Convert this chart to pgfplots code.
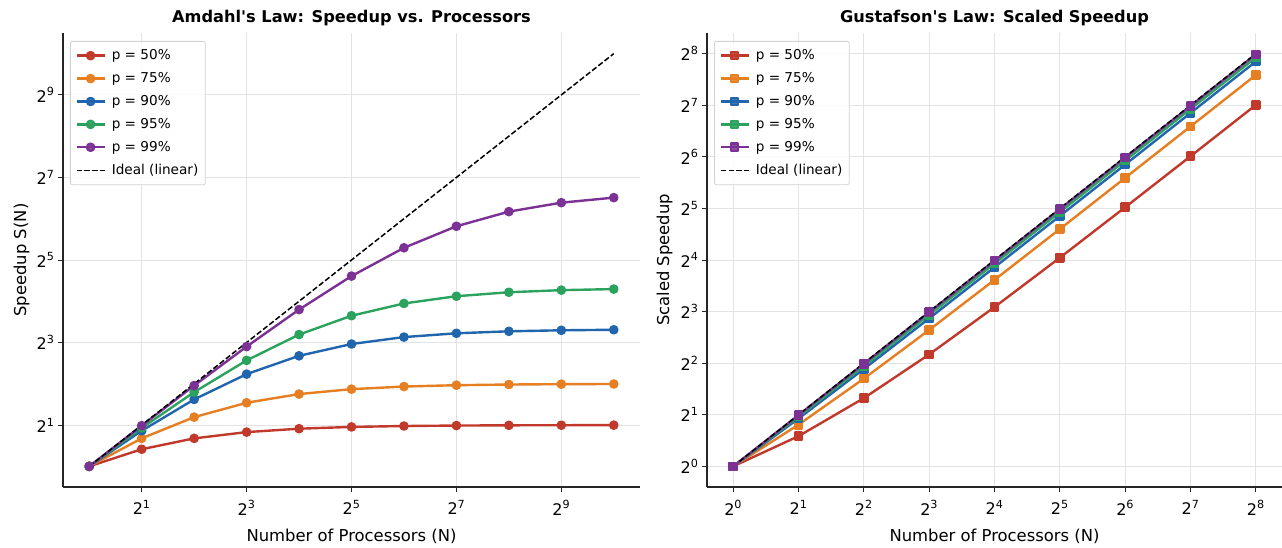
\documentclass[border=0pt]{standalone}
\usepackage{fontspec}
\setmainfont{DejaVu Sans}
\usepackage{pgfplots}
\usepackage{pgfplotstable}
\pgfplotsset{compat=1.18}
\definecolor{cR}{HTML}{C0392B}
\definecolor{cO}{HTML}{E67E22}
\definecolor{cB}{HTML}{2166AC}
\definecolor{cG}{HTML}{2CA25F}
\definecolor{cP}{HTML}{7B3294}

% Amdahl: N, speedup for p = 50, 75, 90, 95, 99 %, ideal
\pgfplotstableread{
N    a50    a75    a90    a95    a99    ideal
1    1      1      1      1      1      1
2    1.3333 1.6    1.8182 1.9048 1.9802 2
4    1.6    2.2857 3.0769 3.4783 3.8835 4
8    1.7778 2.9091 4.7059 5.9259 7.4766 8
16   1.8824 3.3684 6.4    9.1429 13.913 16
32   1.9394 3.6571 7.8049 12.549 24.427 32
64   1.9692 3.8209 8.7671 15.422 39.264 64
128  1.9845 3.9084 9.3431 17.415 56.388 128
256  1.9922 3.9537 9.6604 18.618 72.113 256
512  1.9961 3.9767 9.8273 19.284 83.797 512
1024 1.9981 3.9883 9.9129 19.636 91.184 1024
}\amdahl

% Gustafson: N, scaled speedup for p = 50, 75, 90, 95, 99 %, ideal
\pgfplotstableread{
N    g50    g75    g90    g95    g99    ideal
1    1      1      1      1      1      1
2    1.5    1.75   1.9    1.95   1.99   2
4    2.5    3.25   3.7    3.85   3.97   4
8    4.5    6.25   7.3    7.65   7.93   8
16   8.5    12.25  14.5   15.25  15.85  16
32   16.5   24.25  28.9   30.45  31.69  32
64   32.5   48.25  57.7   60.85  63.37  64
128  64.5   96.25  115.3  121.65 126.73 128
256  128.5  192.25 230.5  243.25 253.45 256
}\gustafson

\pgfplotsset{
  every axis/.append style={
    scale only axis,
    axis lines*=left,
    axis line style={line width=1.1pt, black!85},
    tick align=outside, major tick length=5pt,
    tick style={line width=0.9pt, black!85},
    grid=major, grid style={line width=0.8pt, black!11},
    every tick label/.append style={font=\fontsize{16}{18}\selectfont},
    xticklabel style={yshift=-5pt},
    title style={font=\bfseries\fontsize{16.2}{18}\selectfont, at={(0.5,1)}, anchor=base, yshift=4pt},
    xlabel style={font=\fontsize{16.4}{18}\selectfont, at={(axis description cs:0.5,0)}, anchor=base, yshift=-55pt},
    legend cell align=left,
    legend style={at={(0,1)}, anchor=north west, xshift=7pt, yshift=-8pt,
      font=\fontsize{13.6}{15}\selectfont, draw=black!18, rounded corners=2pt,
      fill=white, fill opacity=0.85, text opacity=1, line width=0.8pt,
      inner xsep=5pt, inner ysep=6.5pt, row sep=7.3pt, column sep=4pt},
  },
  every axis plot/.append style={line width=2.4pt, line join=round},
}
\tikzset{ideal/.style={black, dash pattern=on 5.5pt off 2.4pt, line width=1.5pt, mark=none}}

\begin{document}
\begin{tikzpicture}[x=1pt,y=1pt]
\useasboundingbox (0,0) rectangle (1282,548);

\begin{axis}[at={(63pt,61pt)}, anchor=south west, width=577pt, height=454pt,
  xmode=log, ymode=log, log basis x=2, log basis y=2,
  xmin=0.70711, xmax=1448.15, ymin=0.70711, ymax=1448.15,
  xtick={2,8,32,128,512}, xticklabels={2\textsuperscript{1},2\textsuperscript{3},2\textsuperscript{5},2\textsuperscript{7},2\textsuperscript{9}},
  ytick={2,8,32,128,512}, yticklabels={2\textsuperscript{1},2\textsuperscript{3},2\textsuperscript{5},2\textsuperscript{7},2\textsuperscript{9}},
  title={Amdahl\textquotesingle s Law: Speedup vs. Processors},
  xlabel={Number of Processors (N)},
  ylabel={Speedup S(N)},
  ylabel style={font=\fontsize{16.4}{18}\selectfont, at={(axis description cs:-0.064,0.5)}, anchor=base},
  legend image code/.code={\draw[mark repeat=2,mark phase=2,#1] plot coordinates {(0pt,0pt)(14pt,0pt)(28pt,0pt)};},
]
\addplot[cR, mark=*, mark size=3.6pt] table[x=N, y=a50] {\amdahl};
\addlegendentry{p = 50\%}
\addplot[cO, mark=*, mark size=3.6pt] table[x=N, y=a75] {\amdahl};
\addlegendentry{p = 75\%}
\addplot[cB, mark=*, mark size=3.6pt] table[x=N, y=a90] {\amdahl};
\addlegendentry{p = 90\%}
\addplot[cG, mark=*, mark size=3.6pt] table[x=N, y=a95] {\amdahl};
\addlegendentry{p = 95\%}
\addplot[cP, mark=*, mark size=3.6pt] table[x=N, y=a99] {\amdahl};
\addlegendentry{p = 99\%}
\addplot[ideal] table[x=N, y=ideal] {\amdahl};
\addlegendentry{Ideal (linear)}
\end{axis}

\begin{axis}[at={(707pt,61pt)}, anchor=south west, width=575pt, height=454pt,
  xmode=log, ymode=log, log basis x=2, log basis y=2,
  xmin=0.757858, xmax=337.79, ymin=0.757858, ymax=337.79,
  xtick={1,2,4,8,16,32,64,128,256},
  xticklabels={2\textsuperscript{0},2\textsuperscript{1},2\textsuperscript{2},2\textsuperscript{3},2\textsuperscript{4},2\textsuperscript{5},2\textsuperscript{6},2\textsuperscript{7},2\textsuperscript{8}},
  ytick={1,2,4,8,16,32,64,128,256},
  yticklabels={2\textsuperscript{0},2\textsuperscript{1},2\textsuperscript{2},2\textsuperscript{3},2\textsuperscript{4},2\textsuperscript{5},2\textsuperscript{6},2\textsuperscript{7},2\textsuperscript{8}},
  title={Gustafson\textquotesingle s Law: Scaled Speedup},
  xlabel={Number of Processors (N)},
  ylabel={Scaled Speedup},
  ylabel style={font=\fontsize{16.4}{18}\selectfont, at={(axis description cs:-0.066,0.5)}, anchor=base},
  legend image code/.code={\draw[mark repeat=2,mark phase=2,#1] plot coordinates {(0pt,0pt)(14pt,0pt)(28pt,0pt)};},
]
\addplot[cR, mark=square*, mark size=3.6pt] table[x=N, y=g50] {\gustafson};
\addlegendentry{p = 50\%}
\addplot[cO, mark=square*, mark size=3.6pt] table[x=N, y=g75] {\gustafson};
\addlegendentry{p = 75\%}
\addplot[cB, mark=square*, mark size=3.6pt] table[x=N, y=g90] {\gustafson};
\addlegendentry{p = 90\%}
\addplot[cG, mark=square*, mark size=3.6pt] table[x=N, y=g95] {\gustafson};
\addlegendentry{p = 95\%}
\addplot[cP, mark=square*, mark size=3.6pt] table[x=N, y=g99] {\gustafson};
\addlegendentry{p = 99\%}
\addplot[ideal] table[x=N, y=ideal] {\gustafson};
\addlegendentry{Ideal (linear)}
\end{axis}
\end{tikzpicture}
\end{document}
